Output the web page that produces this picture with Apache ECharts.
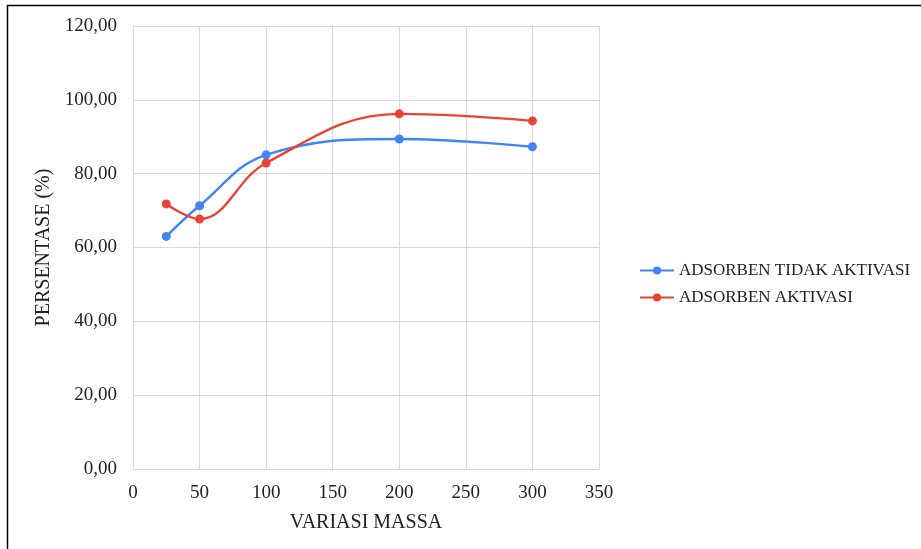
<!DOCTYPE html>
<html><head><meta charset="utf-8">
<script src="https://cdn.jsdelivr.net/npm/echarts@6/dist/echarts.min.js"></script>
<style>html,body{margin:0;padding:0;background:#fff}#c{width:921px;height:549px}</style>
</head><body><div id="c"></div>
<script>
const massa = [25, 50, 100, 200, 300];
const tidakAktivasi = [63.0, 71.3, 85.1, 89.4, 87.3];
const aktivasi = [71.8, 67.7, 82.9, 96.2, 94.3];
const seriesNames = ['ADSORBEN TIDAK AKTIVASI', 'ADSORBEN AKTIVASI'];
const font = '"Liberation Serif","Times New Roman",serif';
const chart = echarts.init(document.getElementById('c'));
chart.setOption({
  animation: false,
  graphic: [{type:'rect', shape:{x:7.5,y:5.5,width:1000,height:1000}, style:{fill:'none',stroke:'#000',lineWidth:1.5}, silent:true}],
  grid: {left:133, top:26, width:466, height:443},
  legend: {
    orient:'vertical', left:634, top:257, itemGap:10, itemWidth:34, itemHeight:10,
    textStyle:{fontFamily:font, fontSize:17, color:'#222'},
    data: seriesNames
  },
  xAxis: {
    type:'value', min:0, max:350, interval:50,
    name:'VARIASI MASSA', nameLocation:'middle', nameGap:44,
    nameTextStyle:{fontFamily:font, fontSize:20, color:'#222'},
    axisLine:{show:true, lineStyle:{color:'#d9d9d9'}},
    axisTick:{show:false},
    axisLabel:{fontFamily:font, fontSize:19, color:'#222', margin:15},
    splitLine:{show:true, lineStyle:{color:'#d9d9d9'}}
  },
  yAxis: {
    type:'value', min:0, max:120, interval:20,
    name:'PERSENTASE (%)', nameLocation:'middle', nameGap:76, nameRotate:90,
    nameTextStyle:{fontFamily:font, fontSize:20, color:'#222'},
    axisLine:{show:true, lineStyle:{color:'#d9d9d9'}},
    axisTick:{show:false},
    axisLabel:{fontFamily:font, fontSize:19, color:'#222', margin:16,
      formatter: v => v.toFixed(2).replace('.', ',')},
    splitLine:{show:true, lineStyle:{color:'#d9d9d9'}}
  },
  series: [
    {name:seriesNames[0], type:'line', smooth:0.4, symbol:'circle', symbolSize:9,
     color:'#4285F4', lineStyle:{width:2.4}, data: massa.map((m,i)=>[m, tidakAktivasi[i]])},
    {name:seriesNames[1], type:'line', smooth:0.4, symbol:'circle', symbolSize:9,
     color:'#EA4335', lineStyle:{width:2.4}, data: massa.map((m,i)=>[m, aktivasi[i]])}
  ]
});
</script></body></html>
